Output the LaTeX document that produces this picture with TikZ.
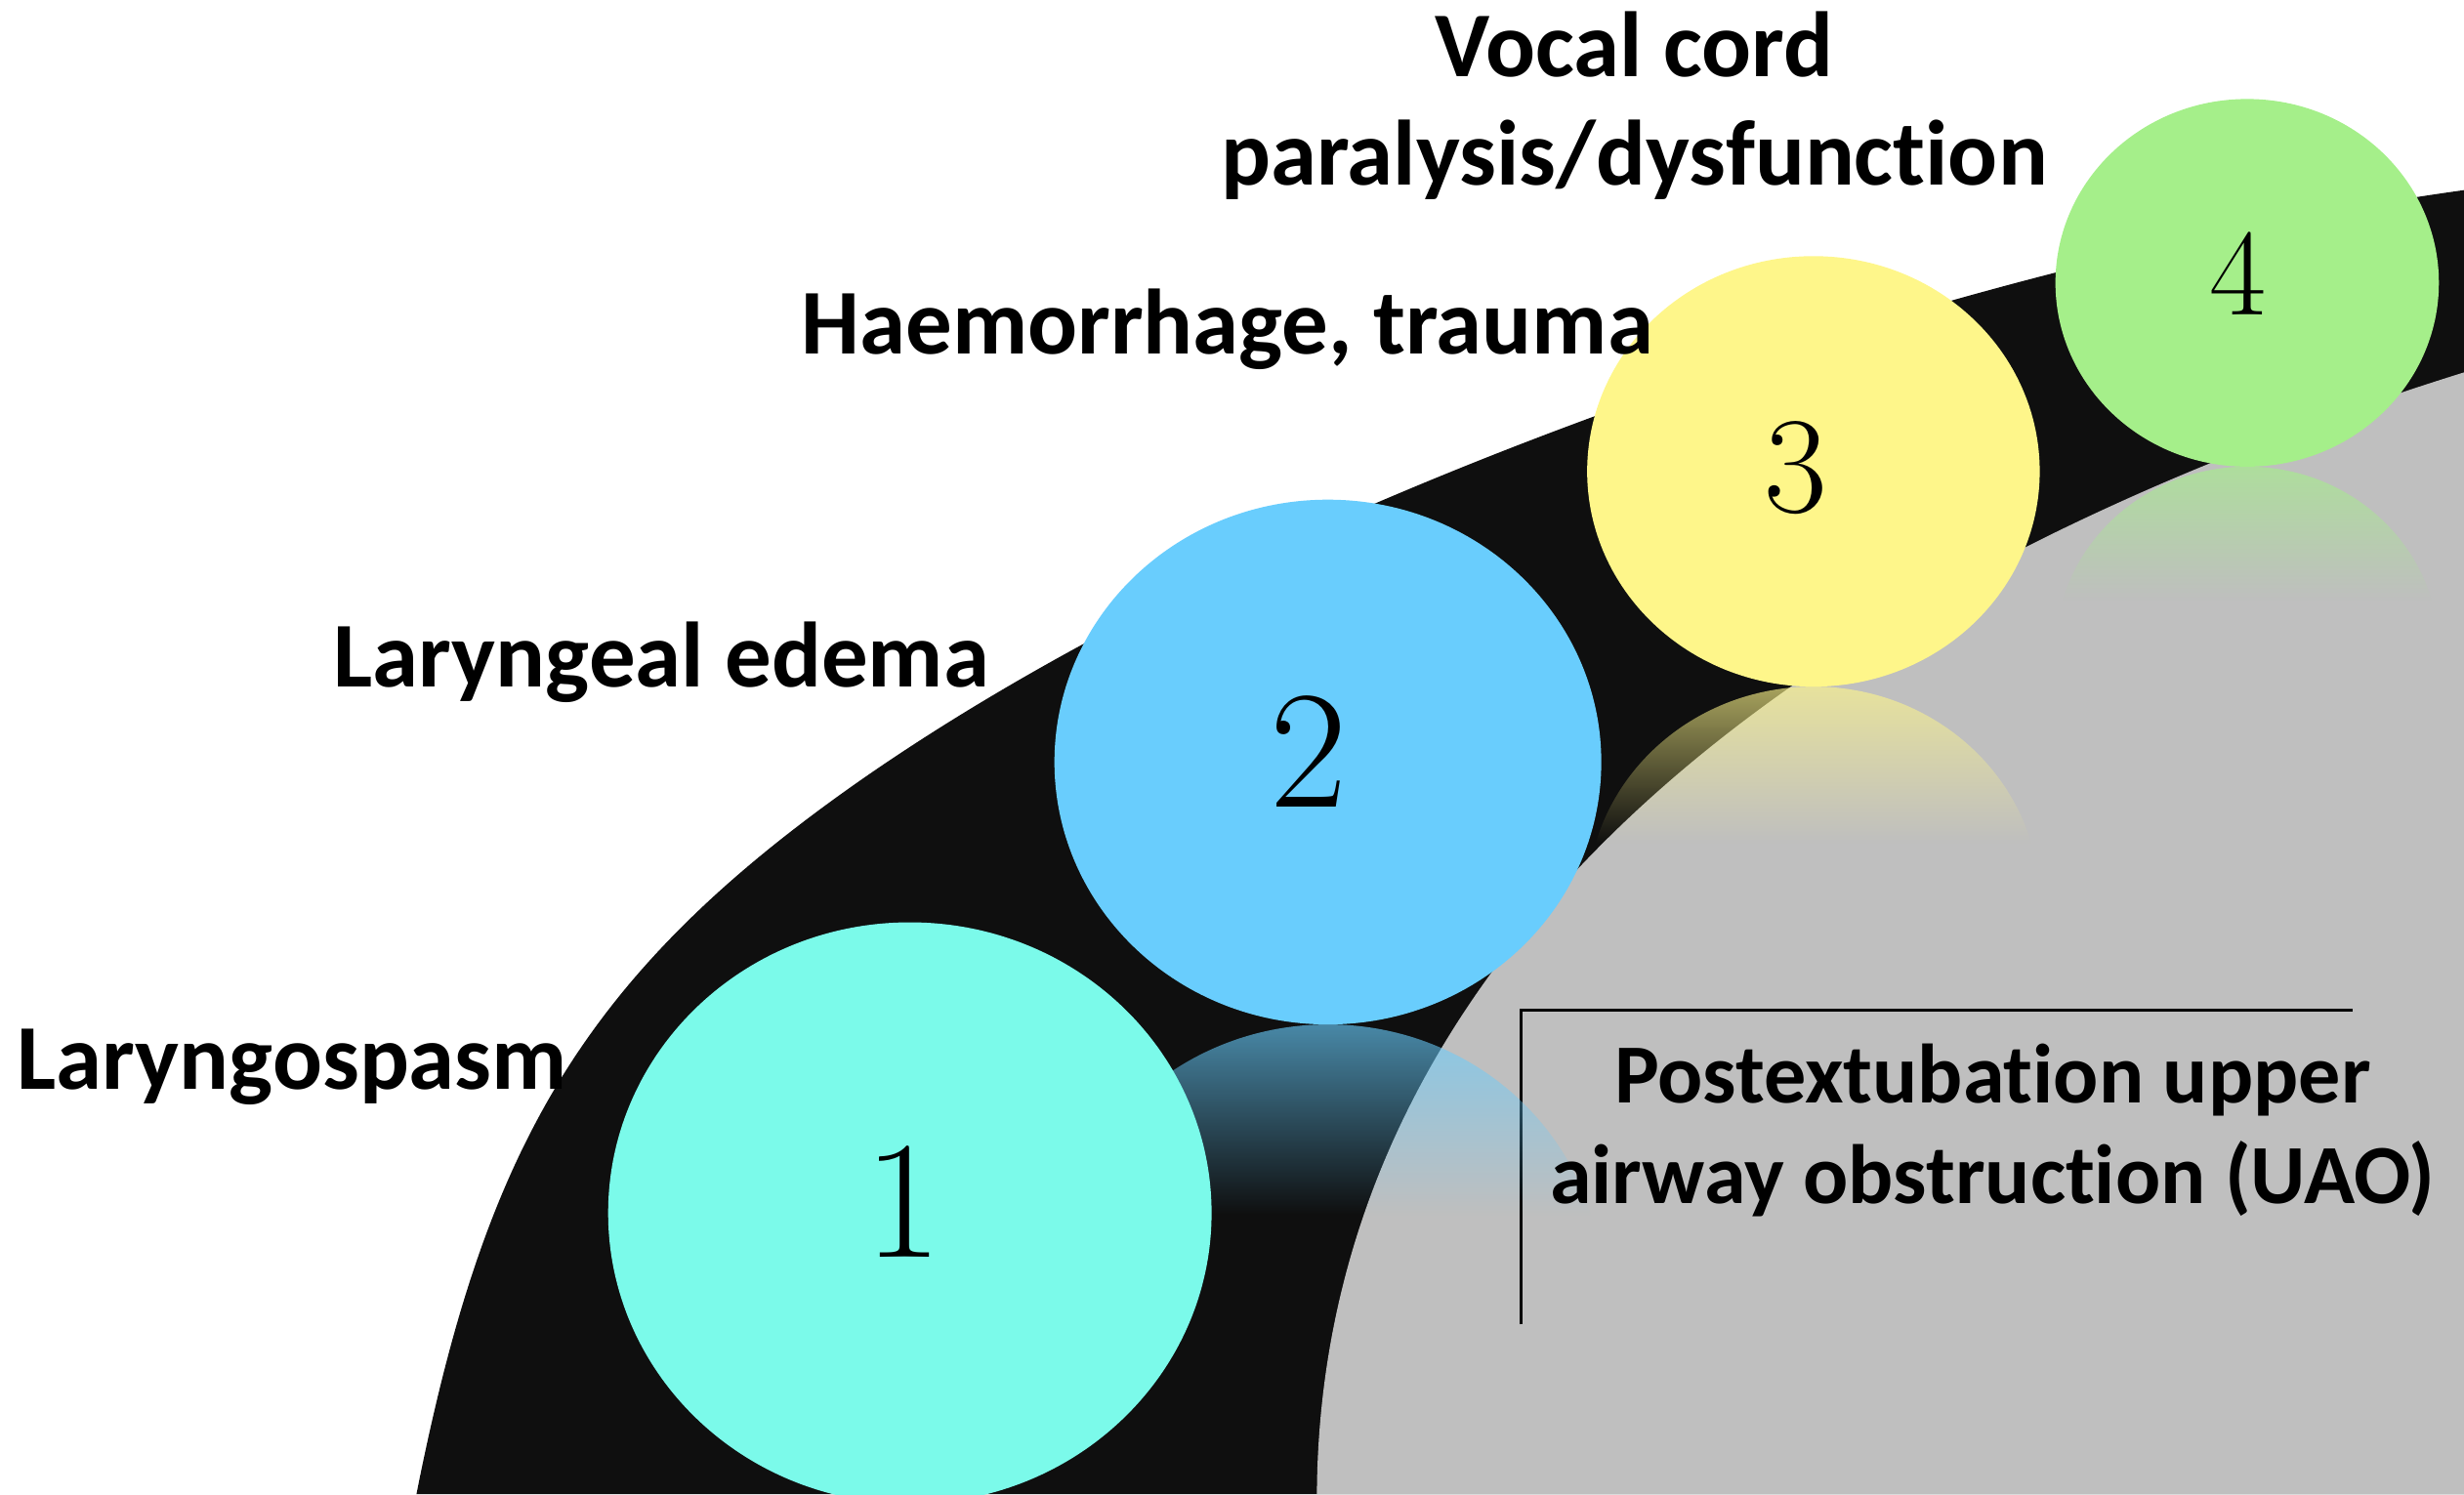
\documentclass[tikz,border=0pt]{standalone}
\usepackage{fontspec}
\newfontfamily\calibrifont{Carlito}[Ligatures=NoCommon]
\usetikzlibrary{fadings}
\definecolor{bandblack}{HTML}{0F0F0F}
\definecolor{bandgray}{HTML}{BFBFBF}
\definecolor{ballcyan}{HTML}{7BFAEA}
\definecolor{ballblue}{HTML}{69CDFD}
\definecolor{ballyellow}{HTML}{FEF68A}
\definecolor{ballgreen}{HTML}{A5EF8A}
% mirror image fades out towards the bottom
\begin{tikzfadingfrompicture}[name=reflfade]
  \fill[transparent!100] (0,0) rectangle (2,0.6);
  \fill[top color=transparent!30,bottom color=transparent!100] (0,0.6) rectangle (2,2);
\end{tikzfadingfrompicture}

\begin{document}
\begin{tikzpicture}[x=0.01609cm,y=-0.01609cm,
  lbl/.style={font=\calibrifont\bfseries\fontsize{27}{32}\selectfont,inner sep=0pt},
  boxlbl/.style={font=\calibrifont\bfseries\fontsize{24.5}{29}\selectfont,inner sep=0pt},
  num/.style={font=\fontsize{#1}{#1}\selectfont,inner sep=0pt}]
\useasboundingbox (0,0) rectangle (1568,951);
% ---------- band ----------
\fill[bandblack] (265,951) .. controls (308,735) and (367,623) .. (547,497)
  .. controls (809,314) and (1251,165) .. (1568,121) -- (1568,951) -- cycle;
\fill[bandgray] (838,951) .. controls (840,640) and (1085,388) .. (1568,237)
  -- (1568,951) -- cycle;
% box corner
\draw[line width=0.7pt] (968,843) -- (968,643) -- (1497,643);
% ---------- reflections ----------
\foreach \cx/\cy/\rx/\ry/\col in {845/485/174/167/ballblue,
  1154/300/144/137/ballyellow, 1430/180/122/117/ballgreen}{
  \fill[\col,path fading=reflfade] (\cx-\rx,\cy+2*\ry)
    arc[start angle=180,end angle=360,x radius=\rx,y radius=\ry] -- cycle;
}
% ---------- balls ----------
\fill[ballcyan] (579,772) ellipse [x radius=192,y radius=185];
\fill[ballblue] (845,485) ellipse [x radius=174,y radius=167];
\fill[ballyellow] (1154,300) ellipse [x radius=144,y radius=137];
\fill[ballgreen] (1430,180) ellipse [x radius=122,y radius=117];
\node[num=49] (n1) at (575,765) {1};
\node[num=49] (n2) at (833,478) {2};
\node[num=40] (n3) at (1143,298) {3};
\node[num=36] (n4) at (1424,174) {4};
% ---------- labels ----------
\node[lbl,anchor=base] (vocal) at (1040,49) {Vocal cord};
\node[lbl,anchor=base] (paral) at (1040,118) {paralysis/dysfunction};
\node[lbl,anchor=base] (haem) at (781,225) {Haemorrhage, trauma};
\node[lbl,anchor=base] (edema) at (421,437) {Laryngeal edema};
\node[lbl,anchor=base] (spasm) at (186,693) {Laryngospasm};
\node[boxlbl,anchor=base] (uao1) at (1268,702) {Postextubation upper};
\node[boxlbl,anchor=base] (uao2) at (1268,766) {airway obstruction (UAO)};
\end{tikzpicture}
\end{document}
